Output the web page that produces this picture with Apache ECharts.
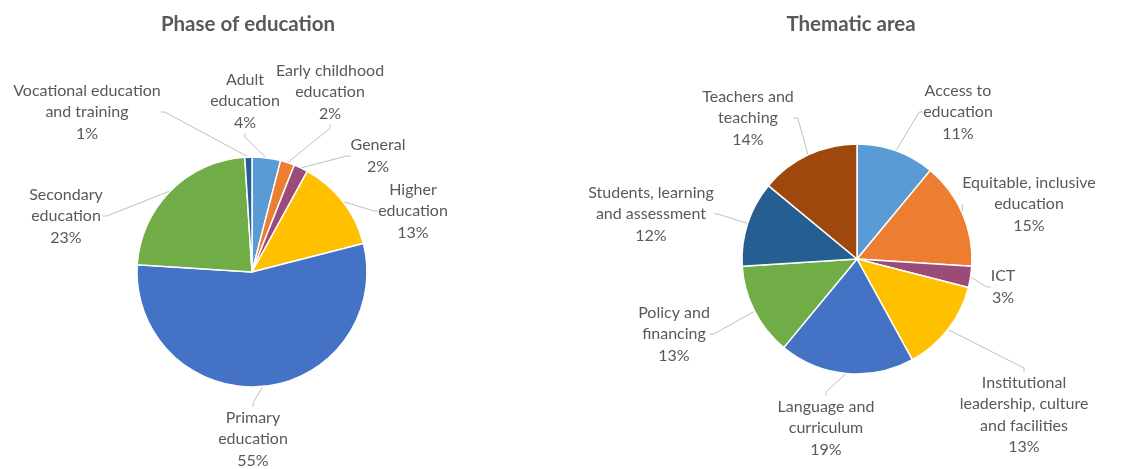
<!DOCTYPE html>
<html>
<head>
<meta charset="utf-8">
<script src="https://cdn.jsdelivr.net/npm/echarts@6/dist/echarts.min.js"></script>
<style>
html,body{margin:0;padding:0;background:#fff;}
#chart{width:1126px;height:469px;}
</style>
</head>
<body>
<div id="chart"></div>
<script>
// Data
const phaseNames = ['Adult\neducation', 'Early childhood\neducation', 'General', 'Higher\neducation', 'Primary\neducation', 'Secondary\neducation', 'Vocational education\nand training'];
const phaseValues = [4, 2, 2, 13, 55, 23, 1];
const themeNames = ['Access to\neducation', 'Equitable, inclusive\neducation', 'ICT', 'Institutional\nleadership, culture\nand facilities', 'Language and\ncurriculum', 'Policy and\nfinancing', 'Students, learning\nand assessment', 'Teachers and\nteaching'];
const themeValues = [11, 15, 3, 13, 19, 13, 12, 14];

// Styles / layout
const phaseColors = ['#5B9BD5', '#ED7D31', '#9B4B78', '#FFC000', '#4472C4', '#70AD47', '#255E91'];
const themeColors = ['#5B9BD5', '#ED7D31', '#9B4B78', '#FFC000', '#4472C4', '#70AD47', '#255E91', '#9E480E'];
const phaseLabelPos = [[245,101],[330,92],[378,156],[413,211],[253,439],[66,216],[87,112]];
const themeLabelPos = [[958,112],[1029,204],[1003,287],[1024,415],[826,428],[674,334],[651,214],[748,118]];

const FONT = 'Lato, "Open Sans", sans-serif';
const TXT = '#595959';

function buildSeries(names, values, colors, center, positions) {
  return {
    type: 'pie',
    center: center,
    radius: 115,
    startAngle: 90,
    clockwise: true,
    avoidLabelOverlap: false,
    animation: false,
    itemStyle: { borderColor: '#fff', borderWidth: 1.5 },
    label: {
      show: true,
      position: 'outside',
      formatter: p => p.name + '\n' + p.value + '%',
      color: TXT,
      fontFamily: FONT,
      fontSize: 16,
      lineHeight: 21.5,
      align: 'center'
    },
    labelLine: { show: true, length: 10, length2: 4, lineStyle: { color: '#bfbfbf', width: 1 } },
    labelLayout: function (params) {
      const pos = positions[params.dataIndex];
      return { x: pos[0], y: pos[1], align: 'center', verticalAlign: 'middle' };
    },
    emphasis: { disabled: true },
    data: names.map((n, i) => ({ name: n, value: values[i], itemStyle: { color: colors[i] } }))
  };
}

const chart = echarts.init(document.getElementById('chart'));
chart.setOption({
  backgroundColor: '#fff',
  title: [
    { text: 'Phase of education', left: 243, top: 9, textAlign: 'center',
      textStyle: { color: TXT, fontFamily: FONT, fontSize: 20.5, fontWeight: 'bold' } },
    { text: 'Thematic area', left: 846, top: 9, textAlign: 'center',
      textStyle: { color: TXT, fontFamily: FONT, fontSize: 20.5, fontWeight: 'bold' } }
  ],
  series: [
    buildSeries(phaseNames, phaseValues, phaseColors, [252, 272], phaseLabelPos),
    buildSeries(themeNames, themeValues, themeColors, [857, 259], themeLabelPos)
  ]
});
</script>
</body>
</html>
